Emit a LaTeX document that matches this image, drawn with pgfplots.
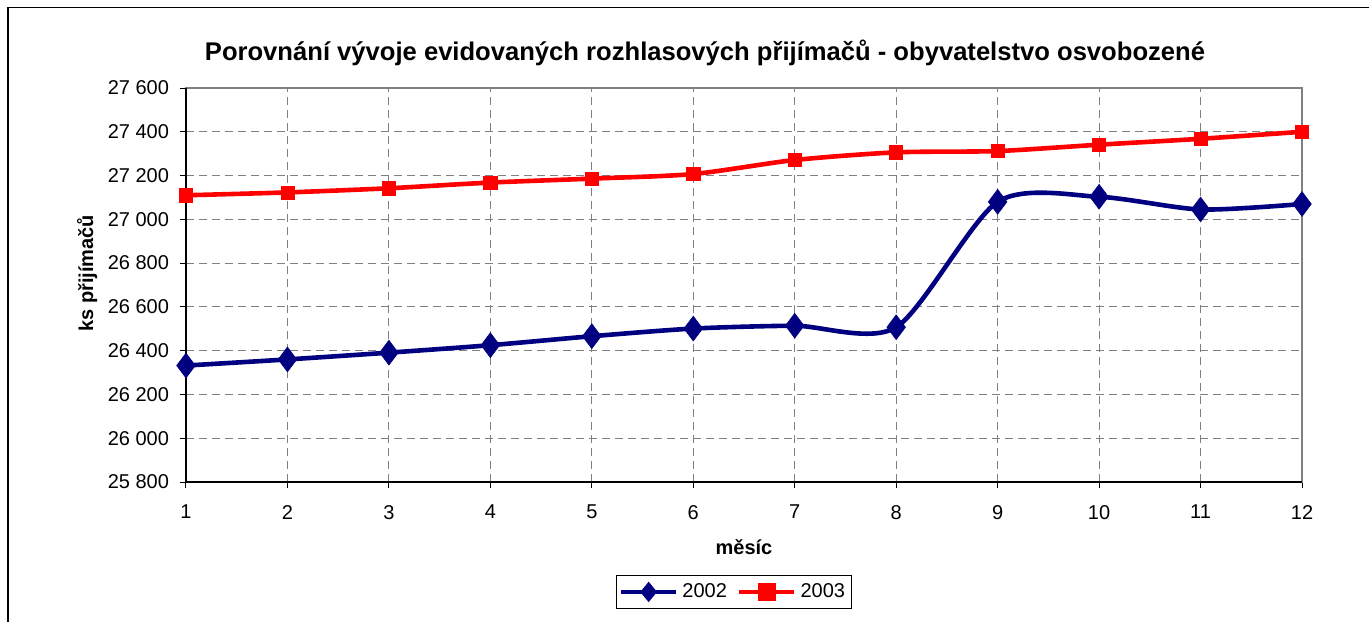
\documentclass[border=0pt]{standalone}
\usepackage{pgfplots}
\pgfplotsset{compat=1.18}
\usepackage{fontspec}
\setmainfont{Liberation Sans}
\definecolor{navy}{RGB}{0,0,128}
\definecolor{gridgray}{RGB}{128,128,128}

\pgfplotstableread{
x y
1 26332
2 26360
3 26391
4 26425
5 26466
6 26501
7 26514
8 26507
9 27080
10 27103
11 27045
12 27070
}\dataA
\pgfplotstableread{
x y
1 27110
2 27123
3 27142
4 27168
5 27186
6 27207
7 27271
8 27306
9 27312
10 27341
11 27368
12 27400
}\dataB

\begin{document}
\begin{tikzpicture}
\useasboundingbox (-93pt,-69.5pt) rectangle (591.5pt,241pt);
\draw[black, line width=0.6pt] (-89pt,-80pt) -- (-89pt,237.25pt) -- (600pt,237.25pt);
\begin{axis}[
  at={(0pt,0pt)}, anchor=south west,
  scale only axis, width=558pt, height=197pt,
  xmin=1, xmax=12, ymin=25800, ymax=27600,
  xtick={1,...,12},
  ytick={25800,26000,26200,26400,26600,26800,27000,27200,27400,27600},
  tick pos=left, tick align=outside, major tick length=3pt,
  grid=major,
  major grid style={gridgray, line width=0.5pt, dash pattern=on 4pt off 2.5pt},
  axis line style={gridgray, line width=0.8pt},
  tick style={black, line width=0.5pt},
  scaled y ticks=false,
  /pgf/number format/fixed,
  /pgf/number format/precision=0,
  /pgf/number format/1000 sep={\ },
  /pgf/number format/assume math mode=true,
  ticklabel style={font=\fontsize{10}{12}\selectfont},
  yticklabel style={xshift=-2pt},
  xticklabel style={yshift=-5pt},
  clip=false,
  xlabel={měsíc}, ylabel={ks přijímačů},
  xlabel style={font=\bfseries\fontsize{10}{12}\selectfont, at={(axis description cs:0.5,-0.185)}, anchor=base},
  ylabel style={font=\bfseries\fontsize{10}{12}\selectfont, at={(axis description cs:-0.0833,0.53)}, anchor=base},
  legend columns=2,
  legend style={at={(axis description cs:0.491,-0.279)}, anchor=center, draw=black, line width=0.5pt,
    font=\fontsize{10}{12}\selectfont, inner xsep=1pt, inner ysep=2pt,
    /tikz/every even column/.append style={column sep=3pt}},
]
\draw[black, line width=0.7pt] (rel axis cs:0,1) -- (rel axis cs:0,0) -- (rel axis cs:1,0);
\addplot[navy, line width=2.3pt, smooth, tension=0.45, mark=diamond*, mark size=6.2pt,
  mark options={solid, fill=navy, draw=navy, line width=0.3pt},
  legend image code/.code={\draw[navy, line width=2.3pt] (0pt,0pt) -- (27.5pt,0pt);
    \fill[navy] (13.75pt,0pt) ++(0,3.3pt) -- ++(2.7pt,-3.3pt) -- ++(-2.7pt,-3.3pt) -- ++(-2.7pt,3.3pt) -- cycle;}]
  table[x=x,y=y] {\dataA};
\addlegendentry{2002}
\addplot[red, line width=2.3pt, smooth, tension=0.45, mark=square*, mark size=3.3pt,
  mark options={solid, fill=red, draw=red, line width=0.3pt},
  legend image code/.code={\draw[red, line width=2.3pt] (0pt,0pt) -- (27.5pt,0pt);
    \fill[red] (10.3pt,-3.4pt) rectangle (17.2pt,3.4pt);}]
  table[x=x,y=y] {\dataB};
\addlegendentry{2003}
\end{axis}
\node[font=\bfseries\fontsize{12.8}{15}\selectfont, anchor=base] at (259.5pt,210.7pt)
  {Porovnání vývoje evidovaných rozhlasových přijímačů - obyvatelstvo osvobozené};
\end{tikzpicture}
\end{document}
